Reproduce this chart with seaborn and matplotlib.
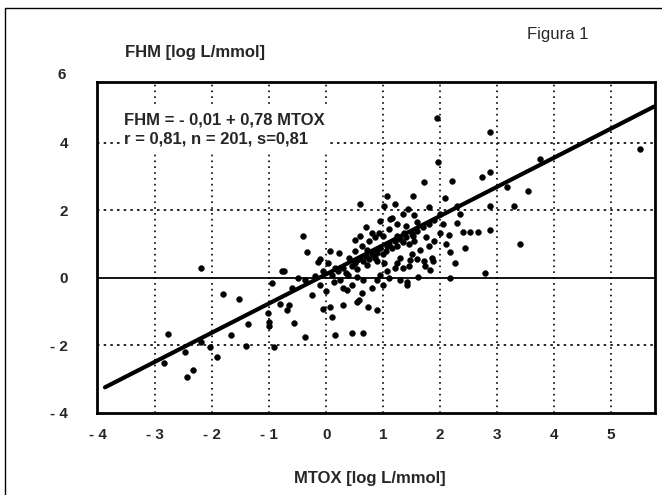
import numpy as np
import pandas as pd
import matplotlib
matplotlib.use('Agg')
import matplotlib.pyplot as plt
import seaborn as sns
from matplotlib.lines import Line2D

# scatter points (MTOX, FHM)
mtox = [-2.85, -2.77, -2.47, -2.44, -2.34, -2.19, -2.19, -2.03, -1.92, -1.81,
        -1.67, -1.53, -1.41, -1.37, -1.02, -1.00, -1.00, -0.95, -0.91, -0.81,
        -0.78, -0.74, -0.69, -0.66, -0.57, -0.41, -0.37, -0.37, -0.34, -0.15,
        -0.10, -0.05, -0.05, 0.04, 0.07, 0.07, 0.10, 0.13, 0.16, 0.22,
        0.25, 0.30, 0.36, 0.39, 0.45, 0.51, 0.54, 0.54, 0.54, 0.57,
        0.60, 0.63, 0.63, 0.65, 0.65, 0.71, 0.71, 0.73, 0.80, 0.89,
        0.89, 0.89, 0.90, 0.92, 0.95, 1.01, 1.01, 1.06, 1.06, 1.06,
        1.12, 1.15, 1.24, 1.24, 1.36, 1.42, 1.42, 1.44, 1.47, 1.52,
        1.53, 1.62, 1.65, 1.71, 1.71, 1.74, 1.80, 1.82, 1.85, 1.88,
        1.94, 1.97, 2.00, 2.00, 2.09, 2.15, 2.18, 2.18, 2.20, 2.26,
        2.29, 2.29, 2.35, 2.41, 2.44, 2.53, 2.67, 2.73, 2.79, 2.87,
        2.87, 2.88, 2.88, 3.17, 3.29, 3.40, 3.55, 3.75, 5.51,
        0.10, 0.20, 0.30, 0.35, 0.45, 0.50, 0.55, 0.60, 0.65, 0.70,
        0.75, 0.80, 0.85, 0.90, 0.95, 1.00, 1.05, 1.10, 1.15, 1.20,
        1.25, 1.30, 1.35, 1.40, 1.45, 1.50, 1.55, 1.60, 1.30, 1.20,
        1.35, 1.50, 0.75, 0.85, 1.00, 1.10, 1.25, 1.40, 1.60, 1.70,
        1.80, 1.90, 1.75, 1.90, 2.05, 2.10, 0.40, 0.50, 0.30, 0.45,
        0.80, 1.00, 1.10, 0.95, 1.30, -0.20, -0.50, -0.60, -0.25, 0.00,
        0.15, -0.10, 1.45, 1.60, 1.55, 1.35, 0.70, 0.60, 1.80, 1.20]
fhm = [-2.53, -1.67, -2.20, -2.92, -2.73, 0.30, -1.90, -2.05, -2.33, -0.49,
       -1.70, -0.63, -2.03, -1.37, -1.05, -1.30, -1.42, -0.16, -2.06, -0.78,
       0.19, 0.19, -0.96, -0.81, -1.35, 1.23, -0.06, -1.75, 0.77, 0.46,
       0.56, 0.19, -0.91, 0.44, 0.79, -0.86, -1.15, -0.11, -1.70, 0.74,
       -0.06, -0.81, -0.36, 0.09, -1.63, 1.13, 0.54, 0.04, -0.71, -0.66,
       2.18, 0.93, -0.46, -0.06, -1.63, 0.84, 0.39, -0.86, 1.33, 0.84,
       0.49, -0.06, -0.96, 1.33, 1.68, 2.13, 0.44, 0.93, 0.19, 2.41,
       1.73, 1.78, 1.23, 0.44, 1.33, -0.11, -0.21, 2.03, 0.54, 2.41,
       1.23, 0.04, 0.84, 2.83, 0.49, 0.34, 0.93, 0.24, 0.59, 0.49,
       4.72, 3.42, 1.88, 1.33, 2.38, 1.28, 0.76, -0.01, 2.88, 0.44,
       2.13, 1.63, 1.88, 1.35, 0.89, 1.35, 1.35, 3.00, 0.14, 2.13,
       1.43, 3.14, 4.32, 2.68, 2.13, 0.99, 2.58, 3.52, 3.82,
       0.10, 0.20, 0.30, 0.15, 0.35, 0.45, 0.25, 0.60, 0.50, 0.65,
       0.55, 0.70, 0.60, 0.75, 0.90, 0.70, 0.80, 1.00, 0.90, 1.10,
       0.95, 1.15, 1.05, 1.20, 1.00, 1.30, 1.10, 1.40, 0.60, 0.30,
       0.30, 0.70, 1.10, 1.20, 1.25, 1.45, 1.60, 1.55, 1.65, 1.50,
       1.60, 1.70, 1.20, 1.10, 1.60, 1.00, 0.60, 0.80, -0.30, -0.20,
       -0.30, -0.20, 0.00, 0.10, -0.05, 0.05, 0.00, -0.30, -0.50, -0.40,
       0.30, -0.20, 0.35, 0.55, 1.85, 1.90, 1.50, 1.25, 2.10, 2.20]

# regression line as drawn in the scan
line_x = [-3.88, 5.75]
line_y = [-3.24, 5.07]

x_ticks = [-4, -3, -2, -1, 0, 1, 2, 3, 4, 5]
y_ticks = [-4, -2, 0, 2, 4]
y_top_label = 6


def fmt(v):
    return f'- {abs(v)}' if v < 0 else str(v)


df = pd.DataFrame({'MTOX': mtox, 'FHM': fhm})
reg = pd.DataFrame({'MTOX': line_x, 'FHM': line_y})

sns.set_style('white')
plt.rcParams['font.family'] = ['Liberation Sans', 'DejaVu Sans']

W, H = 662, 495
fig = plt.figure(figsize=(W / 100, H / 100), dpi=100)
ax = fig.add_axes([97 / W, 1 - 413 / H, (655 - 97) / W, (413 - 82) / H])

# grid
for xv in x_ticks[1:]:
    ax.axvline(xv, color='black', lw=1.2, ls=(0, (1, 2.5)), zorder=1)
for yv in [-2, 2, 4]:
    ax.axhline(yv, color='black', lw=1.2, ls=(0, (1.5, 2.5)), zorder=1)
ax.axhline(0, color='black', lw=1.3, zorder=1)

sns.scatterplot(data=df, x='MTOX', y='FHM', ax=ax, color='black', s=18,
                edgecolor='black', linewidth=0.3, zorder=3)
sns.lineplot(data=reg, x='MTOX', y='FHM', ax=ax, color='black', lw=3,
             zorder=4)

ax.set_xlim(-4.02, 5.77)
ax.set_ylim(-4, 5.8)
ax.set_xticks(x_ticks)
ax.set_yticks(y_ticks)
ax.set_xticklabels([fmt(v) for v in x_ticks], fontweight='bold', fontsize=11)
ax.set_yticklabels([fmt(v) for v in y_ticks], fontweight='bold', fontsize=11)
ax.tick_params(axis='x', length=0, pad=11)
ax.tick_params(axis='y', length=4, width=1.2, direction='out', pad=17,
               color='black')
ax.text(-0.055, y_top_label, fmt(y_top_label), transform=ax.get_yaxis_transform(),
        fontsize=11, fontweight='bold', ha='right', va='center', clip_on=False)
ax.set_xlabel('')
ax.set_ylabel('')
for sp in ax.spines.values():
    sp.set_color('black')
    sp.set_linewidth(2)

ax.text(-3.55, 4.9, 'FHM = - 0,01 + 0,78 MTOX\nr = 0,81, n = 201, s=0,81',
        fontsize=12, fontweight='bold', va='top', ha='left', linespacing=1.35,
        zorder=5, bbox=dict(facecolor='white', edgecolor='none', pad=3))

fig.text(125 / W, 1 - 53 / H, 'FHM [log L/mmol]', fontsize=12,
         fontweight='bold', va='center', ha='left')
fig.text(370 / W, 1 - 478 / H, 'MTOX [log L/mmol]', fontsize=12,
         fontweight='bold', va='center', ha='center')
fig.text(527 / W, 1 - 35 / H, 'Figura 1', fontsize=12, va='center',
         ha='left')

# scan frame
fig.add_artist(Line2D([5 / W, 5 / W], [0, 1 - 8 / H], color='black', lw=1,
                      transform=fig.transFigure))
fig.add_artist(Line2D([5 / W, 1], [1 - 8 / H, 1 - 8 / H], color='black',
                      lw=1, transform=fig.transFigure))

fig.savefig('out.png', dpi=100)
